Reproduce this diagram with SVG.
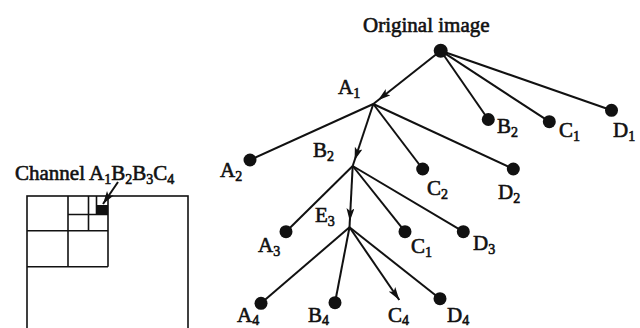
<svg xmlns="http://www.w3.org/2000/svg" width="640" height="328" viewBox="0 0 640 328">
<style>
.t{font-family:"Liberation Serif","Times New Roman",serif;font-size:21px;fill:#111;stroke:#111;stroke-width:0.6}
.s{font-size:14px}
.e{stroke:#111;stroke-width:2;fill:none}
.d{fill:#111}
.g{stroke:#111;stroke-width:1.6;fill:none}
</style>
<defs>
<marker id="am" markerUnits="userSpaceOnUse" markerWidth="22" markerHeight="10" refX="19" refY="4" orient="auto"><path d="M0,0 L13,4 L0,8 L3,4 z" fill="#111"/></marker>
<marker id="ae" markerUnits="userSpaceOnUse" markerWidth="14" markerHeight="10" refX="13" refY="4" orient="auto"><path d="M0,0 L13,4 L0,8 L3,4 z" fill="#111"/></marker>
</defs>
<g id="channel">
<rect x="27" y="196" width="161" height="140" class="g"/>
<line x1="27" y1="266.7" x2="108" y2="266.7" class="g"/>
<line x1="108" y1="196" x2="108" y2="266.7" class="g"/>
<line x1="68" y1="196" x2="68" y2="266.7" class="g"/>
<line x1="27" y1="230.7" x2="108" y2="230.7" class="g" stroke-width="2.4"/>
<line x1="68" y1="214.5" x2="108" y2="214.5" class="g"/>
<line x1="88.5" y1="196" x2="88.5" y2="230.7" class="g"/>
<line x1="96.5" y1="196" x2="96.5" y2="214.5" class="g"/>
<rect x="96.5" y="205" width="11.5" height="9.5" class="d"/>
<line x1="118" y1="182" x2="103" y2="204" class="e" stroke-width="2.2" marker-end="url(#ae)"/>
<text class="t" x="15" y="180" font-size="20">Channel A<tspan class="s" dy="4">1</tspan><tspan dy="-4">B</tspan><tspan class="s" dy="4">2</tspan><tspan dy="-4">B</tspan><tspan class="s" dy="4">3</tspan><tspan dy="-4">C</tspan><tspan class="s" dy="4">4</tspan></text>
</g>
<g id="connectors">
<line x1="440.7" y1="50.7" x2="373.3" y2="104" class="e" marker-end="url(#am)"/>
<line x1="440.7" y1="50.7" x2="488.3" y2="119.5" class="e"/>
<line x1="440.7" y1="50.7" x2="549.3" y2="121.7" class="e"/>
<line x1="440.7" y1="50.7" x2="611.5" y2="110.3" class="e"/>
<line x1="373.3" y1="104" x2="250" y2="160" class="e"/>
<line x1="373.3" y1="104" x2="352.7" y2="166" class="e" marker-end="url(#am)"/>
<line x1="373.3" y1="104" x2="422.7" y2="169" class="e"/>
<line x1="373.3" y1="104" x2="513.3" y2="169" class="e"/>
<line x1="352.7" y1="166" x2="286" y2="231.7" class="e"/>
<line x1="352.7" y1="166" x2="349.5" y2="227.3" class="e" marker-end="url(#am)"/>
<line x1="352.7" y1="166" x2="405" y2="231.7" class="e"/>
<line x1="352.7" y1="166" x2="463.3" y2="231.7" class="e"/>
<line x1="349.5" y1="227.3" x2="261" y2="303.3" class="e"/>
<line x1="349.5" y1="227.3" x2="335" y2="302.7" class="e"/>
<line x1="349.5" y1="227.3" x2="399.3" y2="300" class="e" marker-end="url(#ae)"/>
<line x1="349.5" y1="227.3" x2="440" y2="298.7" class="e"/>
</g>
<g id="root"><circle cx="440.7" cy="50.7" r="7" class="d"/><text class="t" x="363" y="31.5" font-size="22">Original image</text></g>
<g id="A1"><text class="t" x="338" y="94">A<tspan class="s" dy="4">1</tspan></text></g>
<g id="B2a"><circle cx="488.3" cy="119.5" r="6.5" class="d"/><text class="t" x="497" y="133">B<tspan class="s" dy="4">2</tspan></text></g>
<g id="C1a"><circle cx="549.3" cy="121.7" r="6.5" class="d"/><text class="t" x="559" y="137">C<tspan class="s" dy="4">1</tspan></text></g>
<g id="D1"><circle cx="611.5" cy="110.3" r="6.5" class="d"/><text class="t" x="613" y="137">D<tspan class="s" dy="4">1</tspan></text></g>
<g id="A2"><circle cx="250" cy="160" r="6.5" class="d"/><text class="t" x="220" y="177">A<tspan class="s" dy="4">2</tspan></text></g>
<g id="B2"><text class="t" x="313" y="157">B<tspan class="s" dy="4">2</tspan></text></g>
<g id="C2"><circle cx="422.7" cy="169" r="6.5" class="d"/><text class="t" x="427" y="195">C<tspan class="s" dy="4">2</tspan></text></g>
<g id="D2"><circle cx="513.3" cy="169" r="6.5" class="d"/><text class="t" x="498" y="199">D<tspan class="s" dy="4">2</tspan></text></g>
<g id="A3"><circle cx="286" cy="231.7" r="6.5" class="d"/><text class="t" x="258" y="252">A<tspan class="s" dy="4">3</tspan></text></g>
<g id="E3"><text class="t" x="315" y="222">E<tspan class="s" dy="4">3</tspan></text></g>
<g id="C1b"><circle cx="405" cy="231.7" r="6.5" class="d"/><text class="t" x="411" y="253">C<tspan class="s" dy="4">1</tspan></text></g>
<g id="D3"><circle cx="463.3" cy="231.7" r="6.5" class="d"/><text class="t" x="473" y="250">D<tspan class="s" dy="4">3</tspan></text></g>
<g id="A4"><circle cx="261" cy="303.3" r="6.5" class="d"/><text class="t" x="237" y="322">A<tspan class="s" dy="3">4</tspan></text></g>
<g id="B4"><circle cx="335" cy="302.7" r="6.5" class="d"/><text class="t" x="308" y="322">B<tspan class="s" dy="3">4</tspan></text></g>
<g id="C4"><text class="t" x="388" y="322">C<tspan class="s" dy="3">4</tspan></text></g>
<g id="D4"><circle cx="440" cy="298.7" r="6.5" class="d"/><text class="t" x="447" y="322">D<tspan class="s" dy="3">4</tspan></text></g>
</svg>
